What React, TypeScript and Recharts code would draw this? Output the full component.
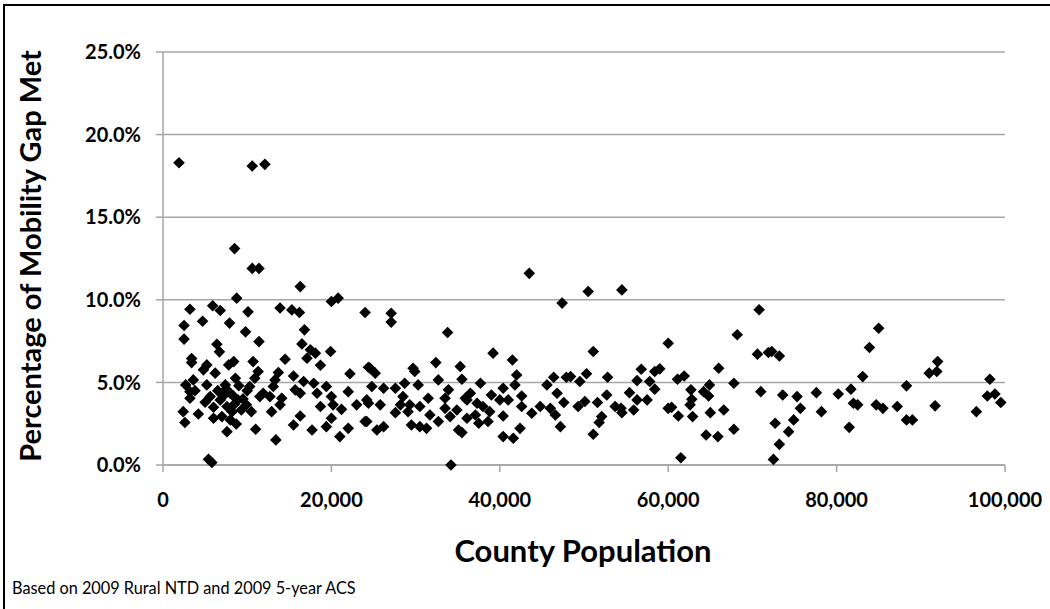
import React from 'react';
import { ScatterChart, Scatter, XAxis, YAxis, CartesianGrid } from 'recharts';

// County population (x) and percentage of mobility gap met (y, %)
const population: number[] = [
  // outliers
  1900, 10600, 12100, 8500, 10600, 11400, 16300, 8750, 20000, 20800, 43500, 47400, 50500, 54500, 70800,
  // 0-12k cluster
  3200, 5900, 6800, 10100, 4700, 2500, 7900, 9800, 2500, 11400, 6400, 6700, 3400, 3400, 5200, 8400, 7800, 10700,
  4800, 6200, 11300, 8600, 3600, 10900, 2700, 5200, 7400, 3200, 10300, 3800, 5600, 8000, 6800, 8900, 11500, 3200,
  9900, 7600, 8200, 9300, 10500, 2400, 4200, 6000, 7000, 2600, 8000, 8700, 7600, 11000, 5400, 5800,
  6500, 7200, 8500, 9500, 10000, 6000, 7500, 9000, 5000, 8300,
  // 12k-24k
  13900, 15300, 16200, 24000, 16800, 16500, 17500, 18100, 17100, 19900, 14500, 18700, 13700, 15500, 22200, 24400,
  13300, 13100, 16700, 17900, 19400, 15700, 16300, 11900, 12700, 14100, 18300, 20000, 22000, 23000, 24400, 13900,
  18700, 20200, 21200, 12900, 16300, 20000, 15500, 17700, 19400, 22000, 21000, 24000, 13400,
  // 24k-36k
  27100, 27100, 33800, 24600, 25200, 29700, 29900, 32400, 35300, 35500, 24800, 26200, 27600, 28700, 30300, 32700,
  33900, 24200, 25800, 28500, 29300, 31500, 33500, 35900, 27600, 29100, 30500, 31700, 33500, 34900, 24200, 25400,
  26200, 29500, 30500, 31300, 32700, 34100, 35100, 34200, 28200,
  // 36k-48k
  39200, 41500, 42000, 46400, 47900, 37700, 41800, 45600, 40400, 39000, 36500, 42600, 46800, 47600, 36100, 37300,
  40000, 41000, 38000, 38800, 42600, 44800, 46000, 43800, 46600, 40400, 36100, 37500, 38600, 47200, 35500, 40400,
  41600, 42400, 37100,
  // 48k-60k
  51100, 60000, 48400, 50300, 49500, 52800, 56800, 58400, 59000, 56300, 57800, 58400, 52700, 55400, 50100, 49300,
  51600, 56300, 57500, 53700, 54400, 54500, 55900, 52100, 51800, 51100, 60000,
  // 60k-72k
  68200, 70600, 71900, 61100, 61900, 66000, 62700, 64200, 64900, 64800, 67800, 71000, 62800, 62600, 60400, 61200,
  62900, 65000, 66600, 67800, 64500, 65900, 61500,
  // 72k-85k
  72300, 73200, 83900, 85000, 83100, 73600, 75300, 77600, 80200, 81700, 82000, 82500, 84700, 75700, 78200, 72700,
  74900, 74300, 81500, 73200, 72500,
  // 85k-100k
  92000, 91000, 91900, 88300, 98200, 85500, 87200, 88300, 89000, 91700, 96600, 97900, 98800, 99500,
];

const gapMet: number[] = [
  18.3, 18.1, 18.2, 13.1, 11.9, 11.9, 10.8, 10.1, 9.9, 10.1, 11.6, 9.8, 10.5, 10.6, 9.4,
  9.43, 9.64, 9.35, 9.27, 8.7, 8.44, 8.59, 8.06, 7.62, 7.47, 7.31, 6.85, 6.44, 6.2, 6.06, 6.26, 6.06, 6.26,
  5.76, 5.56, 5.66, 5.25, 5.15, 5.25, 4.85, 4.85, 4.85, 4.44, 4.75, 4.5, 4.14, 4.34, 3.94, 3.94, 4.14, 4.04,
  3.64, 3.54, 3.23, 3.33, 3.23, 3.23, 3.09, 2.83, 2.93, 2.57, 2.73, 2.48, 2.02, 2.16, 0.35, 0.15,
  4.5, 4.2, 3.7, 4.0, 4.5, 3.5, 4.6, 4.8, 3.8, 4.2,
  9.5, 9.39, 9.23, 9.23, 8.18, 7.33, 6.97, 6.77, 6.46, 6.87, 6.4, 6.04, 5.6, 5.39, 5.52, 5.92,
  5.15, 4.75, 5.05, 4.95, 4.75, 4.55, 4.34, 4.34, 4.14, 4.04, 4.34, 4.14, 4.44, 3.64, 3.74, 3.64,
  3.54, 3.64, 3.37, 3.23, 2.97, 2.83, 2.42, 2.12, 2.32, 2.22, 1.72, 2.63, 1.52,
  9.19, 8.65, 8.02, 5.86, 5.56, 5.86, 5.66, 6.2, 5.96, 5.19, 4.75, 4.65, 4.65, 4.95, 4.85, 5.15,
  4.55, 3.94, 3.64, 4.14, 3.64, 4.04, 4.04, 4.04, 3.17, 3.23, 3.54, 3.03, 3.43, 3.33, 2.63, 2.12,
  2.32, 2.42, 2.32, 2.22, 2.63, 2.93, 2.12, 0.0, 3.64,
  6.77, 6.36, 5.45, 5.31, 5.31, 4.95, 4.85, 4.85, 4.65, 4.24, 4.34, 4.18, 4.34, 3.78, 3.94, 3.74,
  3.94, 3.94, 3.54, 3.23, 3.54, 3.54, 3.43, 3.13, 3.03, 2.97, 2.83, 2.53, 2.63, 2.32, 1.96, 1.72,
  1.62, 2.22, 3.03,
  6.87, 7.37, 5.35, 5.52, 5.05, 5.31, 5.8, 5.66, 5.82, 5.11, 5.05, 4.59, 4.24, 4.38, 3.84, 3.54,
  3.78, 3.94, 3.94, 3.54, 3.43, 3.17, 3.33, 2.93, 2.57, 1.86, 3.43,
  7.88, 6.71, 6.81, 5.19, 5.39, 5.86, 4.55, 4.44, 4.85, 4.18, 4.95, 4.44, 3.98, 3.64, 3.49, 2.97,
  2.93, 3.17, 3.33, 2.16, 1.82, 1.72, 0.44,
  6.87, 6.6, 7.11, 8.28, 5.35, 4.24, 4.14, 4.38, 4.3, 4.59, 3.74, 3.64, 3.64, 3.43, 3.23, 2.53,
  2.73, 2.02, 2.28, 1.25, 0.34,
  6.26, 5.56, 5.66, 4.79, 5.19, 3.43, 3.54, 2.73, 2.73, 3.58, 3.23, 4.18, 4.3, 3.78,
];

const xTicks = [0, 20000, 40000, 60000, 80000, 100000];
const yTicks = [0, 5, 10, 15, 20, 25];

const points = population.map((p, i) => ({ x: p, y: gapMet[i] }));

const FONT = 'Lato, "Open Sans", sans-serif';
const GRID = '#A6A6A6';

const Diamond = (props: any) => {
  const { cx, cy } = props;
  const r = 5.8;
  return (
    <polygon
      points={`${cx},${cy - r} ${cx + r},${cy} ${cx},${cy + r} ${cx - r},${cy}`}
      fill="#000"
    />
  );
};

export default function App() {
  return (
    <div
      style={{
        position: 'absolute',
        left: 0,
        top: 0,
        width: 1050,
        height: 609,
        overflow: 'hidden',
        background: '#fff',
        fontFamily: FONT,
      }}
    >
      <div
        style={{
          position: 'absolute',
          left: 3,
          top: 4,
          width: 1100,
          height: 700,
          borderLeft: '2px solid #000',
          borderTop: '2px solid #000',
        }}
      />
      <ScatterChart
        width={1050}
        height={609}
        margin={{ top: 52, right: 45, left: 63, bottom: 84 }}
      >
        <CartesianGrid vertical={false} stroke={GRID} strokeWidth={1.5} />
        <XAxis
          type="number"
          dataKey="x"
          domain={[0, 100000]}
          ticks={xTicks}
          interval={0}
          height={60}
          tickSize={7}
          tickMargin={21}
          axisLine={{ stroke: GRID, strokeWidth: 1.5 }}
          tickLine={{ stroke: GRID, strokeWidth: 1.5 }}
          tick={{ fill: '#000', fontSize: 20, fontWeight: 700, fontFamily: FONT }}
          tickFormatter={(v: number) => v.toLocaleString('en-US')}
        />
        <YAxis
          type="number"
          dataKey="y"
          domain={[0, 25]}
          ticks={yTicks}
          interval={0}
          width={100}
          tickSize={7}
          tickMargin={15}
          axisLine={{ stroke: GRID, strokeWidth: 1.5 }}
          tickLine={{ stroke: GRID, strokeWidth: 1.5 }}
          tick={{ fill: '#000', fontSize: 20, fontWeight: 700, fontFamily: FONT }}
          tickFormatter={(v: number) => v.toFixed(1) + '%'}
        />
        <Scatter data={points} shape={Diamond} isAnimationActive={false} />
      </ScatterChart>
      <div
        style={{
          position: 'absolute',
          left: 29,
          top: 256,
          transform: 'translate(-50%, -50%) rotate(-90deg)',
          whiteSpace: 'nowrap',
          fontSize: 29,
          fontWeight: 700,
          lineHeight: 1,
          color: '#000',
        }}
      >
        Percentage of Mobility Gap Met
      </div>
      <div
        style={{
          position: 'absolute',
          left: 583,
          top: 550,
          transform: 'translate(-50%, -50%)',
          whiteSpace: 'nowrap',
          fontSize: 31,
          fontWeight: 700,
          lineHeight: 1,
          color: '#000',
        }}
      >
        County Population
      </div>
      <div
        style={{
          position: 'absolute',
          left: 12,
          top: 588,
          transform: 'translateY(-50%)',
          whiteSpace: 'nowrap',
          fontSize: 16.3,
          lineHeight: 1,
          color: '#000',
        }}
      >
        Based on 2009 Rural NTD and 2009 5-year ACS
      </div>
    </div>
  );
}
